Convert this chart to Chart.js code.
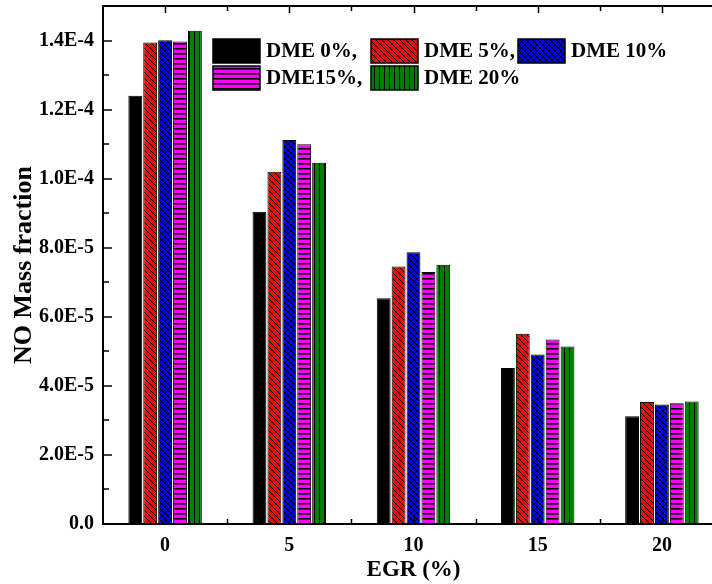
<!DOCTYPE html>
<html>
<head>
<meta charset="utf-8">
<script src="https://cdn.jsdelivr.net/npm/chart.js@4.4.0/dist/chart.umd.min.js"></script>
<style>
  html, body { margin: 0; padding: 0; background: #fff; overflow: hidden; }
  #wrap { width: 740px; height: 584px; }
</style>
</head>
<body>
<div id="wrap"><canvas id="noChart" width="740" height="584"></canvas></div>
<script>
// EGR rate categories and NO mass fraction per DME blend
const egrLabels = ['0', '5', '10', '15', '20'];
const seriesLabels = ['DME 0%,', 'DME 5%,', 'DME 10%', 'DME15%,', 'DME 20%'];
const dme0 = [1.240e-4, 9.04e-5, 6.54e-5, 4.52e-5, 3.12e-5];
const dme5 = [1.394e-4, 1.020e-4, 7.46e-5, 5.51e-5, 3.53e-5];
const dme10 = [1.401e-4, 1.112e-4, 7.87e-5, 4.91e-5, 3.46e-5];
const dme15 = [1.397e-4, 1.100e-4, 7.30e-5, 5.34e-5, 3.50e-5];
const dme20 = [1.428e-4, 1.046e-4, 7.51e-5, 5.14e-5, 3.55e-5];
const yTickLabels = ['0.0', '2.0E-5', '4.0E-5', '6.0E-5', '8.0E-5', '1.0E-4', '1.2E-4', '1.4E-4'];

const FONT = '"Liberation Serif", "Times New Roman", serif';
Chart.defaults.font.family = FONT;
Chart.defaults.font.weight = 'bold';
Chart.defaults.color = '#000';

function makePattern(bg, kind) {
  const w = kind === 'vert' ? 5 : (kind === 'horiz' ? 4 : 6);
  const h = kind === 'horiz' ? 5 : (kind === 'vert' ? 4 : 6);
  const c = document.createElement('canvas');
  c.width = w; c.height = h;
  const p = c.getContext('2d');
  p.fillStyle = bg;
  p.fillRect(0, 0, w, h);
  p.fillStyle = '#000';
  p.strokeStyle = '#000';
  p.lineWidth = 1;
  if (kind === 'back' || kind === 'cross') {
    p.beginPath();
    for (let k = -1; k <= 1; k++) {
      p.moveTo(k * w - 1, -1);
      p.lineTo(k * w + w + 1, h + 1);
    }
    p.stroke();
  }
  if (kind === 'cross') {
    p.beginPath();
    for (let k = 0; k <= 2; k++) {
      p.moveTo(k * w + 1, -1);
      p.lineTo(k * w - w - 1, h + 1);
    }
    p.stroke();
  }
  if (kind === 'horiz') p.fillRect(0, 3, w, 1.6);
  if (kind === 'vert') p.fillRect(4, 0, 1, h);
  return p.createPattern(c, 'repeat');
}

const canvas = document.getElementById('noChart');
const ctx = canvas.getContext('2d');
const fills = [
  '#000000',
  makePattern('#ff0000', 'back'),
  makePattern('#0000ff', 'cross'),
  makePattern('#ff00ff', 'horiz'),
  makePattern('#008000', 'vert')
];
const seriesData = [dme0, dme5, dme10, dme15, dme20];

// inward ticks on left/bottom/top axes plus the top frame line
const framePlugin = {
  id: 'frame',
  afterDatasetsDraw(chart) {
    const { ctx, chartArea: a, scales: { x, y } } = chart;
    ctx.save();
    ctx.strokeStyle = '#000';
    ctx.lineWidth = 2;
    ctx.beginPath();
    ctx.moveTo(a.left - 1, a.top);
    ctx.lineTo(a.right + 1, a.top);
    ctx.stroke();
    ctx.lineWidth = 1.5;
    y.ticks.forEach((t, i) => {
      if (t.value >= y.max) return;
      const py = Math.round(y.getPixelForValue(t.value));
      const len = i % 2 === 0 ? 9 : 6;
      ctx.beginPath();
      ctx.moveTo(a.left, py);
      ctx.lineTo(a.left + len, py);
      ctx.stroke();
    });
    const half = (x.getPixelForValue(1) - x.getPixelForValue(0)) / 2;
    for (let i = 0; i < egrLabels.length; i++) {
      const cx = Math.round(x.getPixelForValue(i)) + 0.5;
      const bx = Math.round(x.getPixelForValue(i) + half) + 0.5;
      [[cx, 7], [bx, 5]].forEach(([px, len]) => {
        ctx.beginPath();
        ctx.moveTo(px, a.bottom);
        ctx.lineTo(px, a.bottom - len);
        ctx.moveTo(px, a.top);
        ctx.lineTo(px, a.top + len);
        ctx.stroke();
      });
    }
    ctx.restore();
  }
};

// legend drawn inside the plot, 3 columns x 2 rows
const legendCols = [110, 268, 415];
const legendPlugin = {
  id: 'boxLegend',
  afterDraw(chart) {
    const { ctx, chartArea: a } = chart;
    ctx.save();
    ctx.font = 'bold 21px ' + FONT;
    ctx.textBaseline = 'middle';
    ctx.textAlign = 'left';
    chart.data.datasets.forEach((ds, i) => {
      const bx = a.left + legendCols[i % 3];
      const by = a.top + 33 + Math.floor(i / 3) * 27;
      ctx.fillStyle = ds.backgroundColor;
      ctx.fillRect(bx, by, 47, 24);
      ctx.lineWidth = 1.5;
      ctx.strokeStyle = '#000';
      ctx.strokeRect(bx, by, 47, 24);
      ctx.fillStyle = '#000';
      ctx.fillText(ds.label, bx + 53, by + 13);
    });
    ctx.restore();
  }
};

new Chart(ctx, {
  type: 'bar',
  data: {
    labels: egrLabels,
    datasets: seriesLabels.map((label, i) => ({
      label,
      data: seriesData[i],
      backgroundColor: fills[i],
      borderColor: '#000',
      borderWidth: 1,
      borderSkipped: false,
      categoryPercentage: 0.6,
      barPercentage: 0.93
    }))
  },
  options: {
    responsive: false,
    animation: false,
    events: [],
    layout: { padding: { top: 6, right: 16, left: 0, bottom: 0 } },
    plugins: { legend: { display: false }, tooltip: { enabled: false } },
    scales: {
      x: {
        grid: { display: false, drawTicks: false },
        border: { display: true, color: '#000', width: 2 },
        ticks: { padding: 10, font: { size: 20, weight: 'bold' } },
        title: { display: true, text: 'EGR (%)', font: { size: 23, weight: 'bold' }, padding: 0 },
        afterFit: s => { s.height = 60; s.paddingLeft = 0; s.paddingRight = 0; }
      },
      y: {
        min: 0,
        max: 1.5e-4,
        grid: { display: false, drawTicks: false },
        border: { display: true, color: '#000', width: 2 },
        ticks: {
          stepSize: 1e-5,
          padding: 9,
          font: { size: 20, weight: 'bold' },
          callback: (v, i) => (i % 2 === 0 ? yTickLabels[i / 2] : '')
        },
        title: { display: true, text: 'NO Mass fraction', font: { size: 26, weight: 'bold' }, padding: { top: 9, bottom: 0 } },
        afterFit: s => { s.width = 103; s.paddingTop = 0; s.paddingBottom = 0; }
      }
    }
  },
  plugins: [framePlugin, legendPlugin]
});
</script>
</body>
</html>
